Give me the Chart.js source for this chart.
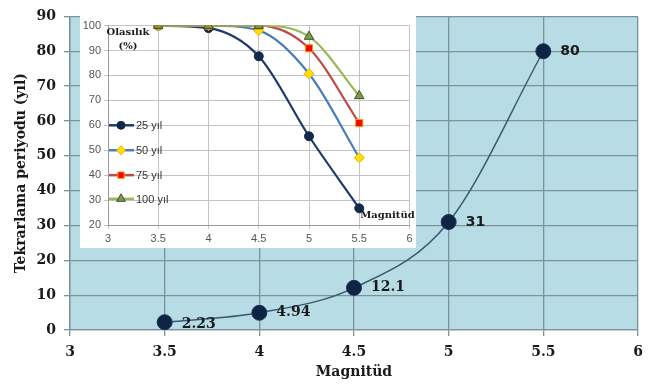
<!DOCTYPE html>
<html lang="tr">
<head>
<meta charset="UTF-8">
<title>Tekrarlama periyodu</title>
<script src="https://cdn.jsdelivr.net/npm/chart.js"></script>
<style>
  html, body { margin: 0; padding: 0; background: #fff; }
  #wrap { position: relative; width: 663px; height: 385px; }
  #main { position: absolute; left: 0; top: 0; }
  #inset { position: absolute; left: 80px; top: 16px; background: #fff; }
</style>
</head>
<body>
<div id="wrap">
  <canvas id="main" width="663" height="385"></canvas>
  <canvas id="inset" width="336" height="232"></canvas>
</div>
<script>
// ana grafik
const mags = [3.5, 4, 4.5, 5, 5.5];
const period = [2.23, 4.94, 12.1, 31, 80];
const periodLabels = ['2.23', '4.94', '12.1', '31', '80'];

// iç grafik (olasılık %)
const seriesNames = ['25 yıl', '50 yıl', '75 yıl', '100 yıl'];
const prob25 = [100, 99, 87.7, 55.6, 26.7];
const prob50 = [100, 100, 98, 80.7, 47];
const prob75 = [100, 100, 100, 90.9, 60.9];
const prob100 = [100, 100, 100, 95.6, 71.8];

const xTicks = [3, 3.5, 4, 4.5, 5, 5.5, 6];

function pts(ys) {
    return mags.map((m, i) => ({ x: m, y: ys[i] }));
}

const serifB = 'bold 14px "DejaVu Serif", serif';

const plotBg = {
    id: 'plotBg',
    beforeDraw(chart, args, opts) {
        const a = chart.chartArea;
        const c = chart.ctx;
        c.save();
        c.fillStyle = opts.color;
        c.fillRect(a.left, a.top, a.right - a.left, a.bottom - a.top);
        c.restore();
    }
};

const valueLabels = {
    id: 'valueLabels',
    afterDatasetsDraw(chart) {
        const c = chart.ctx;
        const meta = chart.getDatasetMeta(0);
        c.save();
        c.fillStyle = '#1a1a1a';
        c.textBaseline = 'middle';
        meta.data.forEach((p, i) => {
            c.font = i < 3 ? serifB : 'bold 14px "DejaVu Sans", sans-serif';
            const dy = i === 0 ? 2 : 0;
            c.fillText(periodLabels[i], p.x + 17, p.y + dy);
        });
        c.restore();
    }
};

new Chart(document.getElementById('main'), {
    type: 'line',
    data: {
        datasets: [{
            data: pts(period),
            borderColor: '#3a5a6e',
            borderWidth: 1.5,
            cubicInterpolationMode: 'monotone',
            pointRadius: 7.5,
            pointBackgroundColor: '#0f2445',
            pointBorderColor: '#1c3350',
            pointBorderWidth: 1
        }]
    },
    options: {
        responsive: false,
        animation: false,
        layout: { padding: { top: 12, right: 25, left: 0, bottom: 0 } },
        plugins: {
            legend: { display: false },
            tooltip: { enabled: false },
            plotBg: { color: '#b7dce6' }
        },
        scales: {
            x: {
                type: 'linear', min: 3, max: 6,
                afterBuildTicks: s => { s.ticks = xTicks.map(v => ({ value: v })); },
                afterFit: s => { s.height = 55; },
                grid: { color: '#7b9298', lineWidth: 1.3, tickLength: 6, tickColor: '#7b9298' },
                border: { color: '#7b9298', width: 1.3 },
                ticks: { color: '#1a1a1a', font: { family: '"DejaVu Serif", serif', size: 14, weight: 'bold' },
                         padding: 8, callback: v => String(v) },
                title: { display: true, text: 'Magnitüd', color: '#1a1a1a',
                         font: { family: '"DejaVu Serif", serif', size: 14, weight: 'bold' },
                         padding: { top: 0, bottom: 4 } }
            },
            y: {
                min: 0, max: 90,
                ticks: { stepSize: 10, color: '#1a1a1a', font: { family: '"DejaVu Serif", serif', size: 14, weight: 'bold' }, padding: 8 },
                afterFit: s => { s.width = 70; },
                grid: { color: '#7b9298', lineWidth: 1.3, tickLength: 6, tickColor: '#7b9298' },
                border: { color: '#7b9298', width: 1.3 },
                title: { display: true, text: 'Tekrarlama periyodu (yıl)', color: '#1a1a1a',
                         font: { family: '"DejaVu Serif", serif', size: 14, weight: 'bold' },
                         padding: { top: 13, bottom: 0 } }
            }
        }
    },
    plugins: [plotBg, valueLabels]
});

// iç grafik
const insetStyles = [
    { line: '#1f3a68', fill: '#13294b', border: '#13294b', style: 'circle', r: 4.5 },
    { line: '#4a7ebb', fill: '#ffe000', border: '#f0a800', style: 'rectRot', r: 5 },
    { line: '#be4b48', fill: '#ff0000', border: '#f59a00', style: 'rect', r: 5 },
    { line: '#98b954', fill: '#7d9b48', border: '#3f5226', style: 'triangle', r: 5.5 }
];
const probs = [prob25, prob50, prob75, prob100];
const legendAt = [60, 50, 40, 30.5];

const insetText = {
    id: 'insetText',
    afterDraw(chart) {
        const c = chart.ctx;
        const a = chart.chartArea;
        const ys = chart.scales.y;
        c.save();
        // lejant
        chart.data.datasets.forEach((ds, i) => {
            const y = ys.getPixelForValue(legendAt[i]);
            const st = insetStyles[i];
            c.strokeStyle = st.line;
            c.lineWidth = 2.5;
            c.beginPath();
            c.moveTo(a.left + 1, y);
            c.lineTo(a.left + 26, y);
            c.stroke();
            c.fillStyle = st.fill;
            c.strokeStyle = st.border;
            c.lineWidth = 1;
            Chart.helpers.drawPoint(c, { pointStyle: st.style, radius: st.r - 0.5, borderWidth: 1, rotation: 0 }, a.left + 13, y);
            c.fillStyle = '#333';
            c.font = '11px "Liberation Sans", sans-serif';
            c.textBaseline = 'middle';
            c.textAlign = 'left';
            c.fillText(ds.label, a.left + 28, y + 1);
        });
        c.fillStyle = '#1a1a1a';
        c.font = 'bold 10px "DejaVu Serif", serif';
        c.textAlign = 'center';
        c.fillText('Olasılık', a.left + 20, a.top + 7);
        c.fillText('(%)', a.left + 20, a.top + 21);
        c.textAlign = 'left';
        c.fillText('Magnitüd', chart.scales.x.getPixelForValue(5.5) + 1, a.bottom - 10);
        c.restore();
    }
};

new Chart(document.getElementById('inset'), {
    type: 'line',
    data: {
        datasets: probs.map((p, i) => ({
            label: seriesNames[i],
            data: pts(p),
            order: 3 - i,
            borderColor: insetStyles[i].line,
            borderWidth: 2.2,
            cubicInterpolationMode: 'monotone',
            pointStyle: insetStyles[i].style,
            pointRadius: insetStyles[i].r,
            pointBackgroundColor: insetStyles[i].fill,
            pointBorderColor: insetStyles[i].border,
            pointBorderWidth: 1
        }))
    },
    options: {
        responsive: false,
        animation: false,
        layout: { padding: { top: 7, right: 4, left: 0, bottom: 0 } },
        plugins: { legend: { display: false }, tooltip: { enabled: false } },
        scales: {
            x: {
                type: 'linear', min: 3, max: 6,
                afterBuildTicks: s => { s.ticks = xTicks.map(v => ({ value: v })); },
                afterFit: s => { s.height = 23; },
                grid: { color: '#c4c4c4', tickLength: 4 },
                border: { color: '#9a9a9a' },
                ticks: { color: '#555', font: { family: '"Liberation Sans", sans-serif', size: 11 },
                         padding: 3, callback: v => String(v) }
            },
            y: {
                min: 20, max: 100,
                afterFit: s => { s.width = 28; },
                grid: { color: '#c4c4c4', tickLength: 4 },
                border: { color: '#9a9a9a' },
                ticks: { stepSize: 10, color: '#555', font: { family: '"Liberation Sans", sans-serif', size: 11 }, padding: 3 }
            }
        }
    },
    plugins: [insetText]
});
</script>
</body>
</html>
